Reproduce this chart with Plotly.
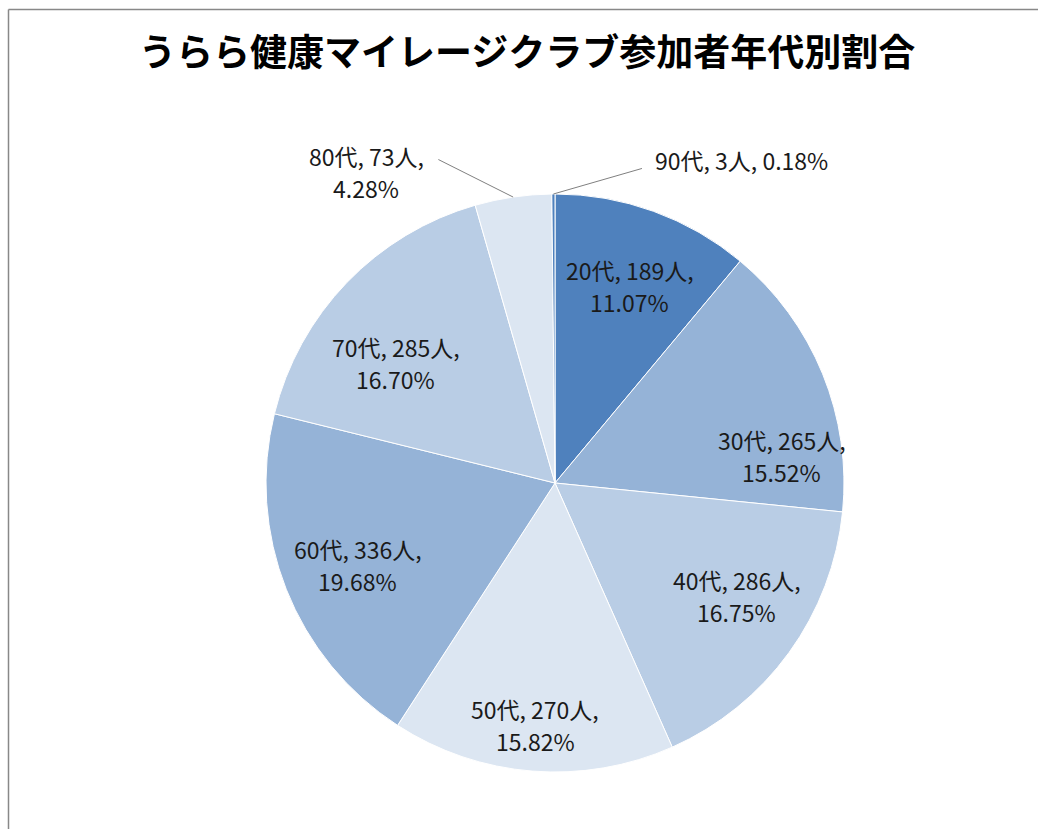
import math
import plotly.graph_objects as go

# ---- data ----
ages = ["20代", "30代", "40代", "50代", "60代", "70代", "80代", "90代"]
people = [189, 265, 286, 270, 336, 285, 73, 3]
percent_labels = ["11.07%", "15.52%", "16.75%", "15.82%", "19.68%", "16.70%", "4.28%", "0.18%"]
title_text = "うらら健康マイレージクラブ参加者年代別割合"

# ---- style ----
colors = ["#4F81BD", "#95B3D7", "#B9CDE5", "#DCE6F2", "#95B3D7", "#B9CDE5", "#DCE6F2", "#4F81BD"]
W, H = 1038, 829
CX, CY, R = 555, 483, 289
LINE_GAP = 32
# label placement (radius fraction, angle in degrees clockwise from 12 o'clock)
label_r = [0.73, 0.79, 0.74, 0.84, 0.74, 0.69, 1.26, 1.29]
label_ang = [20.7, 83.2, 121.8, 184.7, 247.4, 307.0, 328.8, 30.1]
label_oneline = [False, False, False, False, False, False, False, True]
leader = [None, None, None, None, None, None, (72, -12), (-100, 8)]
FONT = "Noto Sans CJK JP, Noto Sans, sans-serif"

fig = go.Figure()
fig.add_trace(go.Pie(
    labels=ages, values=people, sort=False, direction="clockwise", rotation=0,
    marker=dict(colors=colors, line=dict(color="white", width=1)),
    textinfo="none", hoverinfo="label+value+percent", showlegend=False,
    domain=dict(x=[(CX - R) / W, (CX + R) / W], y=[1 - (CY + R) / H, 1 - (CY - R) / H]),
))

def px2paper(x, y):
    return x / W, 1 - y / H

def add_text(x, y, txt):
    px, py = px2paper(x, y)
    annotations.append(dict(x=px, y=py, xref="paper", yref="paper", text=txt,
                            xanchor="center", yanchor="middle", borderpad=0,
                            showarrow=False, align="center",
                            font=dict(family=FONT, size=23, color="#1a1a1a")))

total = sum(people)
cum = 0
annotations = []
shapes = []
for i, (a, v, p) in enumerate(zip(ages, people, percent_labels)):
    mid = (cum + v / 2) / total * 360
    cum += v
    th = math.radians(label_ang[i])
    lx = CX + label_r[i] * R * math.sin(th)
    ly = CY - label_r[i] * R * math.cos(th)
    if label_oneline[i]:
        add_text(lx, ly, f"{a}, {v}人, {p}")
    else:
        add_text(lx, ly - LINE_GAP / 2, f"{a}, {v}人,")
        add_text(lx, ly + LINE_GAP / 2, p)
    if leader[i] is not None:
        mt = math.radians(mid)
        ex = CX + R * math.sin(mt)
        ey = CY - R * math.cos(mt)
        sx, sy = lx + leader[i][0], ly + leader[i][1]
        x0, y0 = px2paper(sx, sy)
        x1, y1 = px2paper(ex, ey)
        shapes.append(dict(type="line", xref="paper", yref="paper", x0=x0, y0=y0, x1=x1, y1=y1,
                           line=dict(color="#808080", width=1)))

# title
tx, ty = px2paper(527, 50)
annotations.append(dict(x=tx, y=ty, xref="paper", yref="paper", text=f"<b>{title_text}</b>",
                        xanchor="center", yanchor="middle",
                        showarrow=False, font=dict(family=FONT, size=37, color="#000000")))

# chart border (left & top visible)
shapes.append(dict(type="line", xref="paper", yref="paper", x0=8.5 / W, x1=1, y0=1 - 9.5 / H, y1=1 - 9.5 / H,
                   line=dict(color="#888888", width=1.5)))
shapes.append(dict(type="line", xref="paper", yref="paper", x0=8.5 / W, x1=8.5 / W, y0=0, y1=1 - 9.5 / H,
                   line=dict(color="#888888", width=1.5)))

fig.update_layout(
    width=W, height=H, margin=dict(l=0, r=0, t=0, b=0),
    paper_bgcolor="white", plot_bgcolor="white",
    annotations=annotations, shapes=shapes,
)
fig.write_html("out.html")
